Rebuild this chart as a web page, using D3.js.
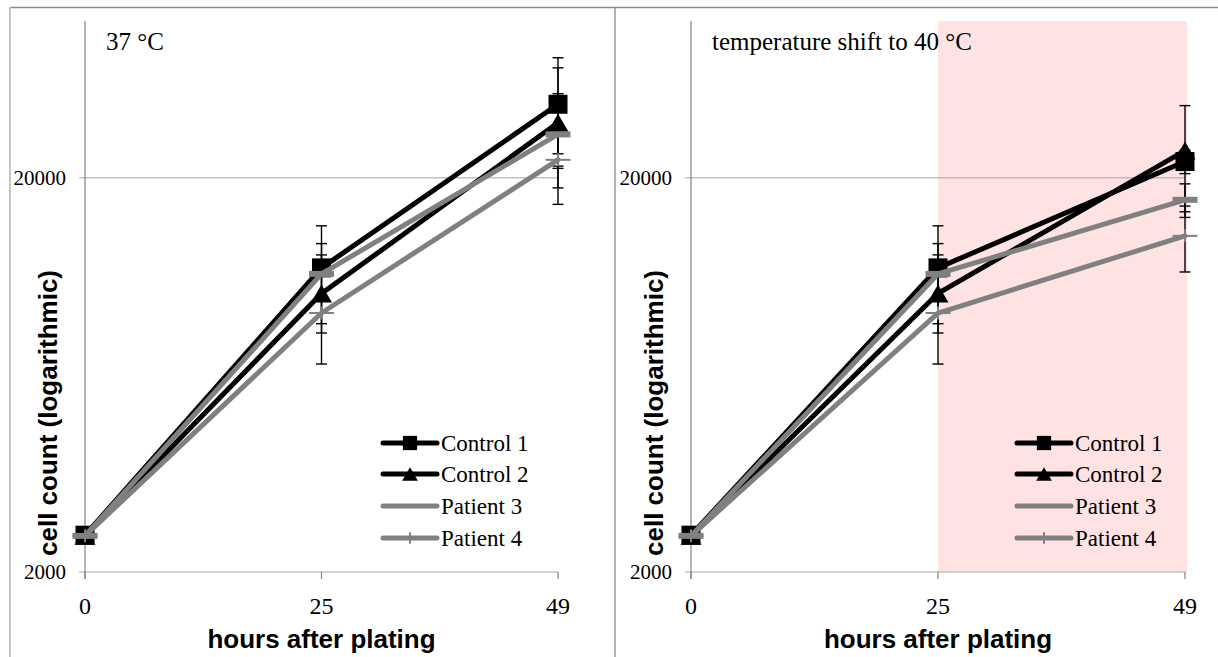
<!DOCTYPE html>
<html>
<head>
<meta charset="utf-8">
<script src="https://cdn.jsdelivr.net/npm/d3@7"></script>
<style>
  html, body { margin: 0; padding: 0; background: #fff; }
  svg { display: block; }
</style>
</head>
<body>
<svg id="chart" width="1218" height="657"></svg>
<script>
// ---- data ----
const hours = ["0", "25", "49"];
const seriesNames = ["Control 1", "Control 2", "Patient 3", "Patient 4"];
const yTickValues = [2000, 20000];
const yDomain = [2000, 50000];

// 37 °C: mean cell counts and error (±) per time point
const control1At37 = [2480, 11820, 30740];
const control2At37 = [2470, 10180, 27580];
const patient3At37 = [2470, 11410, 25780];
const patient4At37 = [2470, 9080, 22220];
const control1At37Err = [60, 3290, 9600];
const control2At37Err = [60, 3440, 10450];
const patient3At37Err = [60, 1340, 6920];
const patient4At37Err = [60, 1000, 800];

// shift to 40 °C after 25 h
const control1At40 = [2480, 11820, 22000];
const control2At40 = [2470, 10180, 23450];
const patient3At40 = [2470, 11410, 17590];
const patient4At40 = [2470, 9080, 14250];
const control1At40Err = [60, 3290, 1500];
const control2At40Err = [60, 3440, 7050];
const patient3At40Err = [60, 1340, 1720];
const patient4At40Err = [60, 1000, 2710];

const shiftRange = ["25", "49"];

// ---- styles per series ----
const styles = [
  { color: "#000000", marker: "square" },
  { color: "#000000", marker: "triangle" },
  { color: "#808080", marker: "dash" },
  { color: "#808080", marker: "plus" }
];

const panels = [
  {
    title: "37 °C",
    left: 85, right: 558,
    values: [control1At37, control2At37, patient3At37, patient4At37],
    errors: [control1At37Err, control2At37Err, patient3At37Err, patient4At37Err],
    shaded: false,
    legendX: 383
  },
  {
    title: "temperature shift to 40 °C",
    left: 691, right: 1185,
    values: [control1At40, control2At40, patient3At40, patient4At40],
    errors: [control1At40Err, control2At40Err, patient3At40Err, patient4At40Err],
    shaded: true,
    legendX: 1017
  }
];

const svg = d3.select("#chart");
const plotTop = 21, plotBottom = 572;
const serif = "'Liberation Serif', 'Times New Roman', serif";
const sans = "'Liberation Sans', Arial, sans-serif";

// outer frame
svg.append("line").attr("x1", 10).attr("x2", 1218).attr("y1", 7.5).attr("y2", 7.5)
  .attr("stroke", "#8a8a8a").attr("stroke-width", 1.5);
svg.append("line").attr("x1", 10).attr("x2", 10).attr("y1", 7).attr("y2", 657)
  .attr("stroke", "#c6c6c6").attr("stroke-width", 2);
svg.append("line").attr("x1", 615).attr("x2", 615).attr("y1", 7).attr("y2", 657)
  .attr("stroke", "#8a8a8a").attr("stroke-width", 1.3);

function drawMarker(g, type, cx, cy, big, color) {
  const s = big ? 1 : 0.75;
  if (type === "square") {
    const w = 19 * s;
    g.append("rect").attr("x", cx - w / 2).attr("y", cy - w / 2)
      .attr("width", w).attr("height", w).attr("fill", color);
  } else if (type === "triangle") {
    const w = 21 * s, h = 18 * s;
    g.append("path")
      .attr("d", `M${cx},${cy - h / 2}L${cx + w / 2},${cy + h / 2}L${cx - w / 2},${cy + h / 2}Z`)
      .attr("fill", color);
  } else if (type === "dash") {
    const w = 25 * s, h = 6;
    g.append("rect").attr("x", cx - w / 2).attr("y", cy - h / 2)
      .attr("width", w).attr("height", h).attr("fill", color);
  } else if (type === "plus") {
    const w = 25 * s, h = 13 * (big ? 1 : 0.9);
    g.append("line").attr("x1", cx - w / 2).attr("x2", cx + w / 2)
      .attr("y1", cy).attr("y2", cy).attr("stroke", color).attr("stroke-width", 2);
    g.append("line").attr("x1", cx).attr("x2", cx)
      .attr("y1", cy - h / 2).attr("y2", cy + h / 2).attr("stroke", color).attr("stroke-width", 2);
  }
}

panels.forEach(p => {
  const x = d3.scalePoint().domain(hours).range([p.left, p.right]);
  const y = d3.scaleLog().domain(yDomain).range([plotBottom, plotTop]);
  const g = svg.append("g");

  // shaded interval after temperature shift
  if (p.shaded) {
    g.append("rect")
      .attr("x", x(shiftRange[0])).attr("y", plotTop)
      .attr("width", x(shiftRange[1]) - x(shiftRange[0]) + 2)
      .attr("height", plotBottom - plotTop)
      .attr("fill", "#ffe3e3");
  }

  // horizontal gridline / x axis line
  yTickValues.forEach(v => {
    g.append("line")
      .attr("x1", p.left - 6).attr("x2", p.right)
      .attr("y1", y(v)).attr("y2", y(v))
      .attr("stroke", "#a6a6a6").attr("stroke-width", 1);
    g.append("text")
      .attr("x", p.left - 19).attr("y", y(v))
      .attr("dy", "0.35em")
      .attr("text-anchor", "end")
      .attr("font-family", serif).attr("font-size", 21)
      .attr("fill", "#000")
      .text(v);
  });

  // y axis line
  g.append("line")
    .attr("x1", p.left).attr("x2", p.left)
    .attr("y1", plotTop).attr("y2", plotBottom + 7)
    .attr("stroke", "#808080").attr("stroke-width", 1.2);

  // x ticks and labels
  hours.forEach(h => {
    g.append("line")
      .attr("x1", x(h)).attr("x2", x(h))
      .attr("y1", plotBottom).attr("y2", plotBottom + 7)
      .attr("stroke", "#808080").attr("stroke-width", 1.2);
    g.append("text")
      .attr("x", x(h)).attr("y", 614)
      .attr("text-anchor", "middle")
      .attr("font-family", serif).attr("font-size", 24)
      .attr("fill", "#000")
      .text(h);
  });

  // axis titles
  g.append("text")
    .attr("x", (p.left + p.right) / 2).attr("y", 648)
    .attr("text-anchor", "middle")
    .attr("font-family", sans).attr("font-weight", "bold").attr("font-size", 26)
    .attr("fill", "#000")
    .text("hours after plating");
  g.append("text")
    .attr("transform", `translate(${p.left - 28},${413}) rotate(-90)`)
    .attr("text-anchor", "middle")
    .attr("font-family", sans).attr("font-weight", "bold").attr("font-size", 26)
    .attr("fill", "#000")
    .text("cell count (logarithmic)");

  // panel title
  g.append("text")
    .attr("x", p.left + 21).attr("y", 50)
    .attr("font-family", serif).attr("font-size", 25)
    .attr("fill", "#000")
    .text(p.title);

  // series: error bars, line, markers
  const line = d3.line().x((d, i) => x(hours[i])).y(d => y(d));
  p.values.forEach((vals, si) => {
    const st = styles[si];
    const errs = p.errors[si];
    const sg = g.append("g");
    vals.forEach((v, i) => {
      const cx = x(hours[i]);
      const y1 = y(v + errs[i]), y2 = y(Math.max(v - errs[i], yDomain[0]));
      sg.append("line").attr("x1", cx).attr("x2", cx).attr("y1", y1).attr("y2", y2)
        .attr("stroke", "#000").attr("stroke-width", 1.4);
      [y1, y2].forEach(yy => {
        sg.append("line").attr("x1", cx - 5.5).attr("x2", cx + 5.5).attr("y1", yy).attr("y2", yy)
          .attr("stroke", "#000").attr("stroke-width", 1.4);
      });
    });
    sg.append("path").datum(vals)
      .attr("d", line)
      .attr("fill", "none")
      .attr("stroke", st.color).attr("stroke-width", 5)
      .attr("stroke-linejoin", "round").attr("stroke-linecap", "round");
    vals.forEach((v, i) => drawMarker(sg, st.marker, x(hours[i]), y(v), true, st.color));
  });

  // legend
  const rowY = [443, 474, 506, 538];
  seriesNames.forEach((name, si) => {
    const st = styles[si];
    const lg = g.append("g");
    const x0 = p.legendX, x1 = p.legendX + 54;
    lg.append("line").attr("x1", x0).attr("x2", x1).attr("y1", rowY[si]).attr("y2", rowY[si])
      .attr("stroke", st.color).attr("stroke-width", 5).attr("stroke-linecap", "round");
    drawMarker(lg, st.marker === "dash" ? "none" : st.marker, (x0 + x1) / 2, rowY[si], false, st.color);
    lg.append("text")
      .attr("x", x1 + 4).attr("y", rowY[si]).attr("dy", "0.33em")
      .attr("font-family", serif).attr("font-size", 23)
      .attr("fill", "#000")
      .text(name);
  });
});
</script>
</body>
</html>
